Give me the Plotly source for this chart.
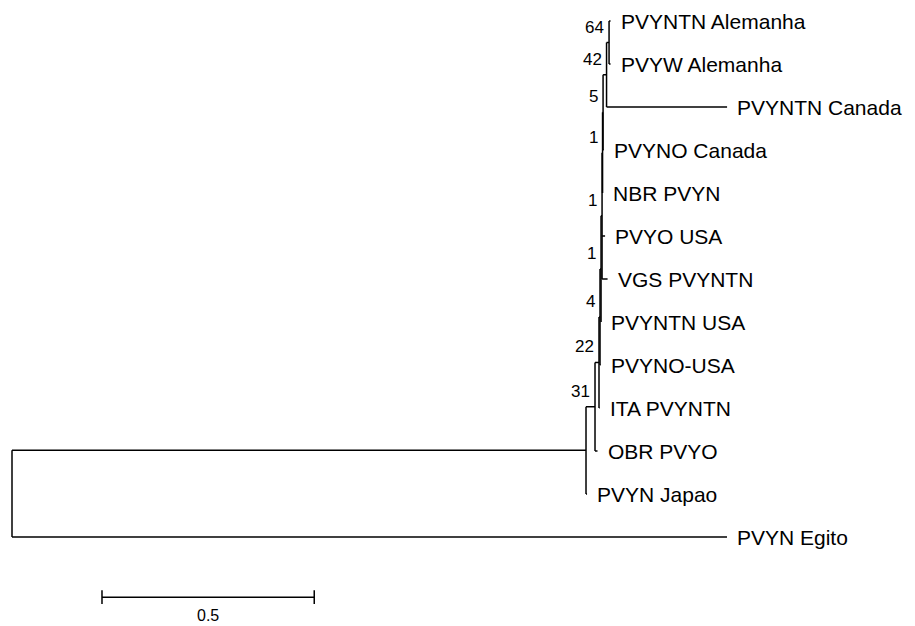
import plotly.graph_objects as go

# ---------------- data ----------------
leaf_names = ["PVYNTN Alemanha", "PVYW Alemanha", "PVYNTN Canada", "PVYNO Canada",
              "NBR PVYN", "PVYO USA", "VGS PVYNTN", "PVYNTN USA", "PVYNO-USA",
              "ITA PVYNTN", "OBR PVYO", "PVYN Japao", "PVYN Egito"]

node_names = ["root", "A", "C", "D", "E", "F", "G", "H", "I", "J", "K"]
node_children = [
    ["A", "PVYN Egito"],
    ["C", "PVYN Japao"],
    ["D", "OBR PVYO"],
    ["E", "ITA PVYNTN"],
    ["F", "PVYNO-USA"],
    ["G", "PVYNTN USA"],
    ["H", "PVYO USA", "VGS PVYNTN"],
    ["I", "NBR PVYN"],
    ["J", "PVYNO Canada"],
    ["K", "PVYNTN Canada"],
    ["PVYNTN Alemanha", "PVYW Alemanha"],
]
node_bootstrap = [None, None, 31, 22, 4, 1, 1, 1, 5, 42, 64]

branch_names = ["A", "PVYN Egito", "C", "PVYN Japao", "D", "OBR PVYO", "E", "ITA PVYNTN",
                "F", "PVYNO-USA", "G", "PVYNTN USA", "H", "PVYO USA", "VGS PVYNTN",
                "I", "NBR PVYN", "J", "PVYNO Canada", "K", "PVYNTN Canada",
                "PVYNTN Alemanha", "PVYW Alemanha"]
branch_lengths = [1.3522, 1.6843, 0.0212, 0.0024, 0.0094, 0.0059, 0.0024, 0.0012,
                  0.0024, 0.0012, 0.0024, 0.0, 0.0012, 0.0071, 0.0130,
                  0.0012, 0.0, 0.0082, 0.0012, 0.0059, 0.2839,
                  0.0035, 0.0035]

scale_bar_length = 0.5
scale_bar_label = "0.5"

# ---------------- layout of the tree ----------------
children = dict(zip(node_names, node_children))
blen = dict(zip(branch_names, branch_lengths))
boot = dict(zip(node_names, node_bootstrap))
leaf_index = {n: i for i, n in enumerate(leaf_names)}

pos_x, pos_y = {}, {}


def place(name, depth):
    pos_x[name] = depth
    if name in children:
        ys = []
        for c in children[name]:
            place(c, depth + blen[c])
            ys.append(pos_y[c])
        pos_y[name] = (ys[0] + ys[-1]) / 2.0
    else:
        pos_y[name] = leaf_index[name]


place("root", 0.0)

lx, ly = [], []
for n in node_names:
    cs = children[n]
    lx += [pos_x[n], pos_x[n], None]
    ly += [pos_y[cs[0]], pos_y[cs[-1]], None]
    for c in cs:
        lx += [pos_x[n], pos_x[c], None]
        ly += [pos_y[c], pos_y[c], None]

fig = go.Figure()
fig.add_trace(go.Scatter(x=lx, y=ly, mode="lines",
                         line=dict(color="black", width=1.5),
                         hoverinfo="skip", showlegend=False))

FONT = "Liberation Sans, Arial, Helvetica, sans-serif"
annotations = []
for n in leaf_names:
    annotations.append(dict(x=pos_x[n], y=pos_y[n], text=n, showarrow=False,
                            xanchor="left", yanchor="middle", xshift=8,
                            font=dict(family=FONT, size=21, color="black")))
for n in node_names:
    if boot[n] is not None:
        annotations.append(dict(x=pos_x[n], y=pos_y[n], text=str(boot[n]), showarrow=False,
                                xanchor="right", yanchor="bottom", xshift=-3, yshift=4,
                                font=dict(family=FONT, size=17, color="black")))

# scale bar
sb_x0 = 0.212
sb_y = 13.4
tick = 0.16
fig.add_trace(go.Scatter(
    x=[sb_x0, sb_x0 + scale_bar_length, None, sb_x0, sb_x0, None,
       sb_x0 + scale_bar_length, sb_x0 + scale_bar_length],
    y=[sb_y, sb_y, None, sb_y - tick, sb_y + tick, None, sb_y - tick, sb_y + tick],
    mode="lines", line=dict(color="black", width=1.5),
    hoverinfo="skip", showlegend=False))
annotations.append(dict(x=sb_x0 + scale_bar_length / 2, y=sb_y, text=scale_bar_label,
                        showarrow=False, xanchor="center", yanchor="top", yshift=-8,
                        font=dict(family=FONT, size=16, color="black")))

# page has an 8px body margin: the figure starts at page pixel (8, 8)
px_per_unit = 424.5
px_per_leaf = 43.0
W, H = 907, 618
root_px = 12 - 8
first_leaf_px = 21 - 8
x_left = -root_px / px_per_unit
x_right = (W - root_px) / px_per_unit
y_top = -first_leaf_px / px_per_leaf
y_bottom = (H - first_leaf_px) / px_per_leaf

fig.update_layout(
    width=W, height=H,
    margin=dict(l=0, r=0, t=0, b=0),
    paper_bgcolor="white", plot_bgcolor="white",
    xaxis=dict(range=[x_left, x_right], visible=False, fixedrange=True),
    yaxis=dict(range=[y_bottom, y_top], visible=False, fixedrange=True),
    annotations=annotations,
    showlegend=False,
)

fig.write_html("out.html")
